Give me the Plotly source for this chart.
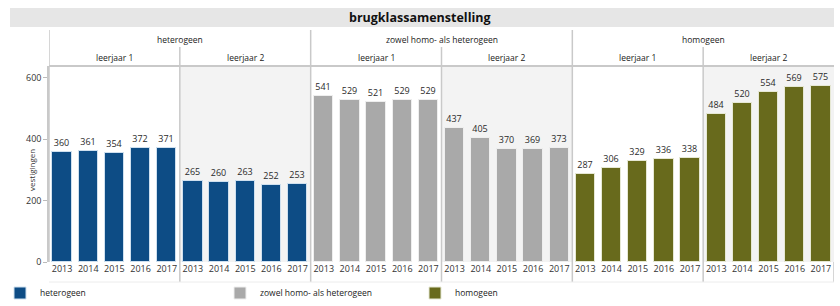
import plotly.graph_objects as go

groups = ["heterogeen", "zowel homo- als heterogeen", "homogeen"]
leerjaren = ["leerjaar 1", "leerjaar 2"]
years = ["2013", "2014", "2015", "2016", "2017"]

heterogeen_lj1 = [360, 361, 354, 372, 371]
heterogeen_lj2 = [265, 260, 263, 252, 253]
zowel_lj1 = [541, 529, 521, 529, 529]
zowel_lj2 = [437, 405, 370, 369, 373]
homogeen_lj1 = [287, 306, 329, 336, 338]
homogeen_lj2 = [484, 520, 554, 569, 575]

series = {
    "heterogeen": heterogeen_lj1 + heterogeen_lj2,
    "zowel homo- als heterogeen": zowel_lj1 + zowel_lj2,
    "homogeen": homogeen_lj1 + homogeen_lj2,
}
colors = {
    "heterogeen": "#0d4c85",
    "zowel homo- als heterogeen": "#a9a9a9",
    "homogeen": "#686a1c",
}
line_colors = {
    "heterogeen": "#cfe0ef",
    "zowel homo- als heterogeen": "#eeeeee",
    "homogeen": "#e6e8d4",
}

W, H = 840, 306
ML, MR, MT, MB = 49, 6, 66, 44
PW = W - ML - MR
PH = H - MT - MB


def py(pix):
    return (H - MB - pix) / PH


def px(pix):
    return (pix - ML) / PW


fig = go.Figure()
n_per_group = len(leerjaren) * len(years)
tickvals, ticktext = [], []
legend_x = {"heterogeen": 12, "zowel homo- als heterogeen": 235, "homogeen": 430}
legend_names = ["legend", "legend2", "legend3"]
for gi, g in enumerate(groups):
    xs = [gi * n_per_group + k for k in range(n_per_group)]
    tickvals += xs
    ticktext += years * len(leerjaren)
    fig.add_trace(go.Bar(
        x=xs, y=series[g], name=g, width=0.74,
        marker=dict(color=colors[g], line=dict(color=line_colors[g], width=1)),
        text=[str(v) for v in series[g]], textposition="outside",
        textfont=dict(size=9, color="#2a2a2a", family="Open Sans"),
        cliponaxis=False, legend=legend_names[gi],
    ))

n_total = len(groups) * n_per_group
shapes = []
# title band
shapes.append(dict(type="rect", xref="paper", yref="paper", x0=px(10), x1=px(834),
                   y0=py(27), y1=py(8), fillcolor="#e6e6e6", line_width=0, layer="below"))
# leerjaar 2 panel backgrounds
for gi in range(len(groups)):
    x0 = gi * n_per_group + len(years) - 0.5
    shapes.append(dict(type="rect", xref="x", yref="paper", x0=x0, x1=x0 + len(years),
                       y0=0, y1=1, fillcolor="#f3f3f3", line_width=0, layer="below"))
# top horizontal line
shapes.append(dict(type="line", xref="x", yref="paper", x0=-0.5, x1=n_total - 0.5,
                   y0=1, y1=1, line=dict(color="#c9c9c9", width=2)))
# group dividers
for gi in range(len(groups) + 1):
    xv = gi * n_per_group - 0.5
    y0 = py(282) if gi > 0 else 0
    y1 = py(30) if gi < len(groups) else 0
    shapes.append(dict(type="line", xref="x", yref="paper", x0=xv, x1=xv,
                       y0=y0, y1=y1, line=dict(color="#c9c9c9", width=1.5)))
# leerjaar dividers
for gi in range(len(groups)):
    xv = gi * n_per_group + len(years) - 0.5
    shapes.append(dict(type="line", xref="x", yref="paper", x0=xv, x1=xv,
                       y0=py(282), y1=py(47), line=dict(color="#c9c9c9", width=1.5)))
# faint line under tick labels
shapes.append(dict(type="line", xref="x", yref="paper", x0=-0.5, x1=n_total - 0.5,
                   y0=py(282), y1=py(282), line=dict(color="#ececec", width=1)))

annotations = [dict(text="<b>brugklassamenstelling</b>", xref="paper", yref="paper",
                    x=px(420), y=py(17), showarrow=False, yanchor="middle",
                    font=dict(size=12.5, color="#111111", family="Open Sans"))]
for gi, g in enumerate(groups):
    annotations.append(dict(text=g, xref="x", yref="paper", x=gi * n_per_group + 4.5,
                            y=py(40), showarrow=False, yanchor="middle",
                            font=dict(size=8.5, color="#222222", family="Open Sans")))
    for li, lj in enumerate(leerjaren):
        annotations.append(dict(text=lj, xref="x", yref="paper",
                                x=gi * n_per_group + li * len(years) + 2, y=py(57),
                                showarrow=False, yanchor="middle",
                                font=dict(size=8.5, color="#222222", family="Open Sans")))
annotations.append(dict(text="vestigingen", xref="paper", yref="paper", x=px(31), y=py(170),
                        textangle=-90, showarrow=False, xanchor="center", yanchor="middle",
                        font=dict(size=8, color="#333333", family="Open Sans")))

legend_cfg = {}
for gi, g in enumerate(groups):
    legend_cfg[legend_names[gi]] = dict(
        xref="container", yref="container",
        x=(legend_x[g] - 15) / W, y=1 - 293 / H, xanchor="left", yanchor="middle",
        orientation="h", bgcolor="rgba(0,0,0,0)", itemwidth=30,
        font=dict(size=8.5, color="#222222", family="Open Sans"),
    )

fig.update_layout(
    width=W, height=H,
    margin=dict(l=ML, r=MR, t=MT, b=MB, autoexpand=False),
    paper_bgcolor="white", plot_bgcolor="white",
    bargap=0, showlegend=True,
    shapes=shapes, annotations=annotations,
    font=dict(family="Open Sans", color="#333333"),
    xaxis=dict(range=[-0.5, n_total - 0.5], tickvals=tickvals, ticktext=ticktext,
               tickfont=dict(size=9, color="#333333"), showgrid=False, zeroline=False,
               ticks="", showline=False),
    yaxis=dict(range=[0, (H - MB - MT) / 0.3067], tickvals=[0, 200, 400, 600],
               tickfont=dict(size=9, color="#333333"), showgrid=False, zeroline=False,
               ticks="outside", ticklen=4, tickcolor="#bbbbbb", showline=True,
               linecolor="#c9c9c9", linewidth=1.5),
    **legend_cfg,
)

fig.write_html("out.html", config={"displayModeBar": False},
               post_script="document.body.style.margin='0';")
